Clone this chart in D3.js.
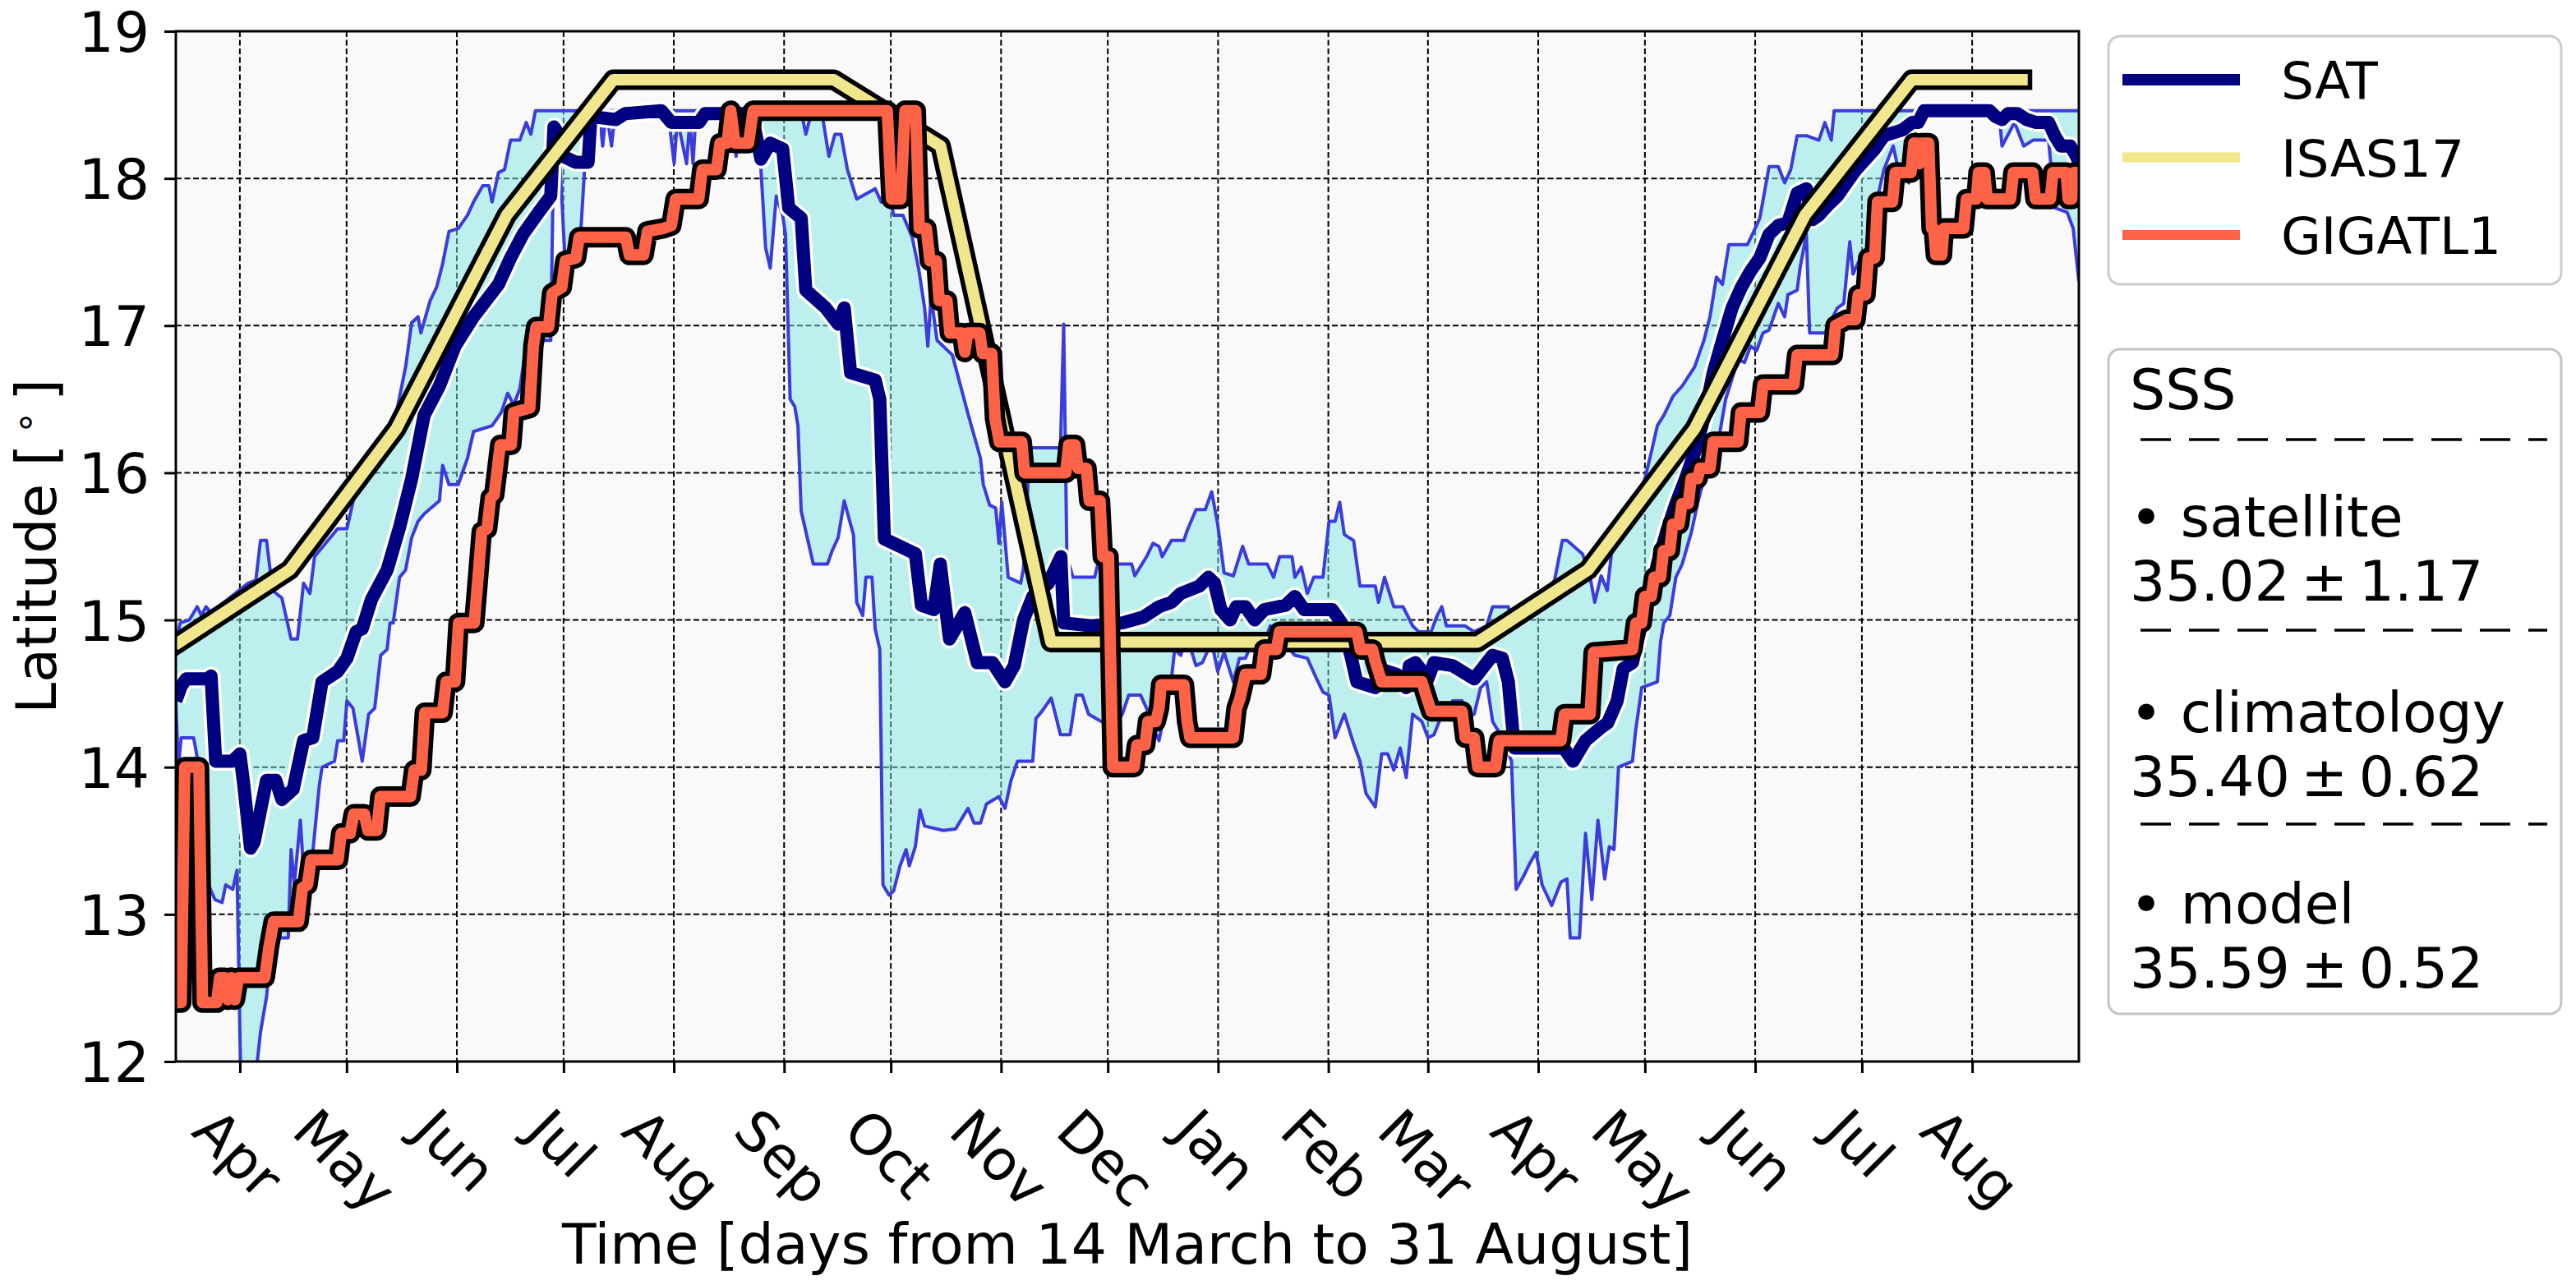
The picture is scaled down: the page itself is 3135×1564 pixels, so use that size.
<!DOCTYPE html>
<html>
<head>
<meta charset="utf-8">
<script src="https://cdn.jsdelivr.net/npm/d3@7"></script>
<style>
  body { margin: 0; background: #fff; }
  text { font-family: "DejaVu Sans", sans-serif; }
</style>
</head>
<body>
<div id="chart"></div>
<script>
// ---- data: [day since 14 March, latitude] ----
var satLat = [[0,14.45],[1.5,14.55],[2.9,14.6],[9,14.6],[9.9,14.62],[11.2,14.04],[15.9,14.04],[18,14.09],[19,13.9],[21,13.45],[22,13.49],[25.5,13.91],[28.1,13.91],[29.8,13.78],[33,13.85],[35.9,14.18],[38.5,14.2],[41.1,14.58],[45.5,14.65],[48.1,14.74],[50.7,14.92],[52.4,14.94],[55,15.14],[59.4,15.34],[62.9,15.63],[66.3,15.96],[69.8,16.39],[74.1,16.59],[78.5,16.86],[83.7,17.06],[87.2,17.17],[90.7,17.28],[94.1,17.46],[97.6,17.62],[102,17.77],[105.4,17.88],[106.3,18.35],[107.6,18.3],[108.9,18.15],[112.4,18.11],[115.9,18.11],[116.7,18.42],[123.7,18.4],[126.3,18.44],[136.5,18.46],[139.3,18.38],[147.1,18.38],[148.8,18.44],[161.9,18.44],[164.5,18.13],[167.1,18.24],[170.6,18.2],[172.3,17.8],[175.8,17.73],[177.1,17.24],[182.7,17.12],[186.2,17.01],[187.9,17.12],[189.7,16.68],[196.6,16.63],[197.9,16.5],[199.2,15.55],[203.6,15.5],[207.9,15.45],[209.6,15.1],[213.1,15.07],[214.9,15.38],[217.5,14.87],[221.8,15.05],[225.3,14.71],[229.6,14.71],[233.1,14.58],[235.7,14.69],[238.3,15.0],[240.9,15.16],[245.3,15.25],[248.8,15.43],[249.6,14.98],[257.4,14.96],[266.1,14.98],[272,15.02],[276.4,15.09],[279.9,15.12],[282.5,15.18],[287.7,15.23],[290.3,15.29],[292,15.25],[293.8,15.07],[296.4,15.0],[298.1,15.09],[300.7,15.09],[303.3,15.0],[306,15.07],[312,15.1],[314.6,15.16],[317.2,15.07],[325.1,15.07],[327.7,14.98],[330.3,14.76],[332,14.58],[337.2,14.54],[338.1,14.67],[343.3,14.63],[345.9,14.54],[346.8,14.69],[348.5,14.71],[352,14.6],[353.7,14.71],[358.9,14.69],[365,14.6],[370.2,14.76],[372.9,14.74],[374.6,14.58],[376.3,14.13],[382.4,14.13],[390.2,14.13],[392.8,14.04],[396.3,14.18],[400.7,14.27],[402.5,14.3],[405.2,14.45],[406.9,14.67],[409.5,14.71],[412.1,14.98],[414.8,15.2],[416.5,15.38],[419.1,15.6],[421.7,15.79],[424.4,15.96],[427,16.14],[429.6,16.37],[432.2,16.68],[434.8,16.9],[437.5,17.12],[440.1,17.26],[442.7,17.37],[445.3,17.46],[447.9,17.62],[450.5,17.68],[453.2,17.7],[455.8,17.9],[458.4,17.93],[460.1,17.72],[461.9,17.75],[464.5,17.82],[467.1,17.88],[469.7,17.97],[472.4,18.06],[475,18.13],[477.6,18.2],[480.2,18.29],[482.8,18.31],[485.4,18.33],[488.1,18.38],[489.8,18.38],[491.5,18.46],[509.9,18.46],[511.6,18.42],[513.4,18.4],[515.1,18.44],[517.7,18.44],[520.3,18.4],[523,18.38],[526.5,18.38],[528.2,18.29],[530,18.22],[532.6,18.22],[534.3,18.15],[535,18.11]];

var bandUpper = [[0,14.85],[1.2,14.98],[3.8,15.0],[6,15.09],[7.2,15.03],[8.5,15.09],[9.9,15.05],[17.7,15.2],[20.3,15.25],[22.5,15.27],[23.8,15.54],[25.5,15.54],[27.2,15.2],[29.8,15.15],[32.4,14.87],[34.2,14.87],[35.9,15.25],[37.7,15.18],[39,15.43],[45.5,15.62],[48.1,15.62],[52.4,16.08],[54.2,16.1],[61.1,16.3],[64.6,16.72],[66.3,17.02],[68.1,17.06],[68.9,16.95],[71.5,17.17],[73.3,17.26],[75,17.42],[76.8,17.64],[79.4,17.66],[82,17.75],[83.7,17.84],[86.3,17.95],[88,17.95],[88.9,17.84],[90.7,18.04],[92.4,18.06],[94.1,18.26],[96.7,18.26],[98.5,18.38],[99.8,18.3],[101.1,18.46],[175.8,18.46],[177.1,18.3],[178.4,18.42],[181.8,18.42],[183.6,18.15],[185.3,18.3],[187,18.3],[188.8,18.06],[191.4,17.86],[196.6,17.93],[198.3,17.84],[200.1,17.95],[201.8,17.75],[204.4,17.75],[207,17.6],[208.8,17.39],[210.5,17.12],[211.4,16.86],[212.3,17.2],[214,16.9],[218.3,16.8],[222.7,16.4],[226.2,16.1],[227,15.92],[228.8,15.78],[230.5,15.76],[231.4,15.52],[232.2,15.8],[234,15.29],[237.5,15.25],[238.3,15.35],[240.1,16.17],[248.7,16.17],[249.6,17.01],[250.5,15.43],[252.2,15.29],[258.3,15.29],[259.2,15.38],[268.7,15.38],[269.6,15.3],[272.9,15.43],[274.7,15.52],[276.4,15.5],[277.3,15.43],[279.9,15.54],[283.4,15.54],[284.2,15.6],[286.8,15.75],[289.4,15.75],[291.2,15.87],[292.9,15.65],[294.7,15.32],[297.3,15.3],[299.9,15.5],[301.6,15.38],[306.8,15.38],[308.6,15.29],[310.3,15.43],[313.8,15.43],[314.6,15.29],[316.4,15.36],[318.1,15.18],[319.9,15.29],[322.5,15.29],[324.2,15.67],[325.9,15.67],[327.2,15.8],[328.5,15.58],[331.1,15.54],[332.9,15.23],[337.2,15.23],[338.1,15.12],[339.8,15.29],[342.4,15.09],[345,15.09],[347.7,14.96],[349.4,14.92],[352.9,14.92],[354.6,15.03],[355.9,15.09],[357.2,14.96],[362.4,14.96],[365,14.92],[368.5,14.96],[370.2,15.09],[374.6,15.09],[375.5,15.0],[379.8,15.0],[383.3,15.14],[387.6,15.27],[389.8,15.54],[391.1,15.54],[395.4,15.45],[397.2,15.34],[398.9,15.12],[400.7,15.3],[402.4,15.2],[403.7,15.47],[407.4,15.6],[410,15.75],[413,15.96],[414.8,16.14],[416.5,16.32],[418.3,16.39],[420.9,16.52],[423.5,16.59],[427,16.72],[429.6,16.9],[431.3,17.06],[433.1,17.33],[434.8,17.28],[436.6,17.55],[441.8,17.55],[443.6,17.64],[445.3,17.73],[447.9,18.08],[450.5,18.08],[452.3,17.97],[454,18.06],[455.8,18.29],[458.4,18.29],[461.9,18.26],[463.6,18.38],[465.4,18.26],[466.2,18.46],[535,18.46]];

var bandLower = [[0,14.45],[0.7,14.0],[1.5,14.2],[5,14.2],[6.5,14.0],[8.5,14.0],[9.2,13.2],[11,13.1],[13,13.08],[14,13.2],[16,13.17],[17.2,13.3],[18.3,11.8],[22,11.8],[23.8,12.2],[25.5,12.44],[26.4,12.66],[27.2,12.84],[31.6,12.84],[32.4,13.44],[33.3,13.2],[35,13.64],[35.9,13.3],[36.8,13.42],[38.5,13.42],[40.3,13.87],[41.1,14.0],[44.6,14.04],[45.5,14.18],[47.2,14.18],[48.1,14.45],[49.8,14.4],[52.4,14.04],[54.2,14.36],[55.9,14.4],[57.6,14.76],[59.4,14.8],[60.2,14.98],[61.1,14.98],[62.9,15.29],[64.6,15.34],[66.3,15.56],[68.1,15.67],[69.8,15.72],[74.1,15.81],[75,16.05],[76.8,15.92],[79.4,15.92],[82,16.1],[83.7,16.28],[88.9,16.32],[91.5,16.41],[93.3,16.54],[95,16.46],[96.7,16.57],[98.5,16.86],[100.2,16.9],[105.4,16.9],[106.3,18.35],[108,18.1],[109.3,17.5],[113.5,17.5],[115,18.1],[116,18.46],[117,18.46],[118,18.22],[119,18.46],[120,18.22],[121,18.46],[122.5,18.22],[123.5,18.46],[135.8,18.4],[138.4,18.44],[140.1,18.1],[141,18.4],[143.6,18.1],[144.5,18.4],[145.4,18.1],[146.2,18.44],[156.7,18.44],[157.5,18.15],[158.4,18.44],[164.5,18.06],[165.8,17.53],[167.1,17.39],[168.8,17.88],[170.6,17.75],[171.4,17.62],[172.7,16.5],[174,16.45],[174.9,16.32],[175.8,15.74],[177.5,15.56],[179.2,15.38],[183.2,15.38],[184.5,15.47],[186.2,15.56],[187.9,15.81],[189.7,15.65],[190.5,15.58],[191.4,15.12],[193.1,15.03],[194,15.29],[195.7,15.29],[196.6,14.94],[197.9,14.8],[198.8,13.2],[200.5,13.13],[201.8,13.16],[203.6,13.33],[205.3,13.44],[206.2,13.33],[207.9,13.46],[209.2,13.71],[210.5,13.6],[215.7,13.57],[219.2,13.58],[222.7,13.72],[224.4,13.62],[226.2,13.62],[227.9,13.75],[231.4,13.8],[233.1,13.72],[234.8,13.91],[236.6,14.04],[240.9,14.04],[241.8,14.33],[243.5,14.38],[246.1,14.47],[248.7,14.22],[251.4,14.22],[253.1,14.49],[254.8,14.49],[256.6,14.36],[260.9,14.3],[264.4,14.3],[266.1,14.36],[267.9,14.49],[271.2,14.49],[272.9,14.4],[274.7,14.27],[276.4,14.18],[279.9,14.6],[280.8,14.8],[282.5,14.76],[284.2,14.89],[286.8,14.69],[288.6,14.71],[291.2,14.85],[292.9,14.65],[294.7,14.78],[297.3,14.58],[299,14.74],[300.7,14.74],[303.3,14.89],[306,14.85],[307.7,14.96],[309.4,14.83],[312,14.83],[314.6,14.76],[318.1,14.74],[320.7,14.6],[322.5,14.51],[324.2,14.49],[325.9,14.2],[328.5,14.36],[331.1,14.16],[332.9,14.04],[334.6,13.82],[337.2,13.73],[339,14.09],[340.7,14.09],[342.4,13.98],[344.2,14.13],[345.9,13.93],[347.7,14.36],[350.3,14.31],[352,14.2],[353.7,14.22],[355.5,14.33],[358.9,14.45],[361.6,14.45],[362.4,14.33],[365,14.36],[366.8,14.54],[368.5,14.58],[370.2,14.31],[372.9,14.2],[375.5,14.04],[376.8,13.17],[378.9,13.26],[380.7,13.35],[382.4,13.42],[384.1,13.2],[386.8,13.06],[389.4,13.22],[391.1,13.24],[392,12.84],[394.6,12.84],[396.3,13.55],[398.1,13.1],[399.8,13.64],[401.7,13.24],[403,13.46],[404.3,13.44],[405.6,14.0],[409.5,14.04],[410.4,14.25],[412.1,14.54],[416.5,14.58],[417.4,14.85],[418.3,14.98],[420,15.03],[421.7,15.29],[423.5,15.38],[426.1,15.6],[427.8,15.79],[429.6,15.96],[432.2,16.1],[433.9,16.25],[435.7,16.5],[436.6,16.57],[439.2,16.77],[441,16.75],[442.7,16.86],[444.4,16.83],[446.2,16.95],[447.9,16.97],[450.5,17.15],[452.3,17.06],[453.2,17.21],[455.8,17.24],[456.6,17.39],[458.4,17.62],[459.3,16.95],[463.6,16.95],[467.1,17.12],[468.9,17.15],[470.6,17.57],[471.5,17.35],[473.2,17.44],[475,17.46],[476.7,17.75],[478.5,17.88],[480.2,18.06],[482.8,18.22],[484.6,18.02],[487.2,17.97],[488.1,18.2],[489.8,18.46],[512.5,18.46],[513.4,18.22],[516.9,18.38],[519.5,18.22],[522.1,18.26],[526.5,18.26],[528.2,17.8],[531.7,17.77],[533.4,17.66],[535,17.3]];

var gigatlLat = [[0,12.4],[1.5,12.4],[2.5,14.0],[6.5,14.0],[7.5,12.4],[11.5,12.4],[12.3,12.57],[13.8,12.57],[14.6,12.42],[15.6,12.57],[16.6,12.42],[17.6,12.57],[25,12.57],[26.2,12.78],[27.5,12.95],[34.5,12.95],[35.6,13.18],[37,13.2],[38,13.37],[45.6,13.37],[46.5,13.55],[49,13.55],[50,13.68],[53,13.68],[54,13.57],[56.5,13.57],[57.5,13.8],[66,13.8],[67,13.98],[69,13.98],[70,14.37],[75,14.37],[76,14.58],[78.5,14.58],[79.5,14.98],[83.9,14.98],[85,15.3],[86,15.6],[87.5,15.62],[88.5,15.83],[89.5,15.85],[90.5,16.05],[91.2,16.19],[94.3,16.19],[95,16.41],[99.5,16.44],[100.5,16.86],[101.3,16.99],[104.8,16.99],[105.8,17.22],[108.5,17.26],[109.5,17.44],[112.5,17.46],[113.4,17.6],[126.5,17.6],[127.5,17.48],[131.5,17.48],[132.6,17.64],[137,17.66],[139.3,17.68],[140.5,17.86],[147,17.86],[148,18.06],[152,18.06],[153,18.24],[155,18.24],[156,18.46],[157.2,18.24],[161,18.24],[162.3,18.46],[200,18.46],[201.2,17.86],[203.8,17.86],[205,18.46],[208,18.46],[209,17.66],[211,17.66],[212,17.44],[213.8,17.44],[214.6,17.17],[216.8,17.17],[217.6,16.95],[221,16.95],[221.8,16.82],[222.6,16.95],[226,16.95],[226.8,16.81],[229.4,16.81],[230.3,16.37],[231.5,16.21],[237.8,16.21],[238.6,16.0],[250.2,16.0],[251,16.19],[252.8,16.19],[253.6,16.03],[256,16.03],[256.8,15.81],[259.8,15.81],[260.6,15.43],[262.2,15.43],[263.4,14.0],[269.4,14.0],[270.2,14.15],[272.5,14.15],[273.3,14.31],[275.5,14.31],[276.4,14.4],[277,14.56],[283.4,14.56],[284.3,14.31],[285.1,14.2],[297.3,14.2],[298.2,14.4],[299.2,14.47],[300.7,14.63],[305.1,14.63],[306,14.8],[309.4,14.8],[310.3,14.92],[332,14.92],[333,14.8],[336.4,14.8],[337.2,14.72],[339,14.58],[350.3,14.58],[351.3,14.5],[352.9,14.38],[361.6,14.38],[362.5,14.2],[365,14.2],[366,14.0],[371,14.0],[372,14.18],[389.4,14.18],[390.4,14.36],[397.6,14.36],[398.6,14.78],[409.5,14.8],[410.5,14.98],[412.1,14.98],[413,15.16],[414.8,15.16],[415.6,15.29],[417.4,15.29],[418.2,15.47],[420,15.47],[420.8,15.65],[422.6,15.65],[423.4,15.79],[425.2,15.79],[426,15.96],[427.8,15.96],[428.5,16.03],[431.3,16.03],[432.2,16.21],[439.2,16.21],[440,16.41],[445.3,16.41],[446.2,16.6],[454.9,16.6],[455.8,16.8],[465.8,16.8],[466.6,17.0],[469.7,17.04],[472.2,17.04],[473,17.21],[475,17.21],[475.8,17.46],[477.6,17.46],[478.4,17.84],[482.6,17.84],[483.4,18.04],[487.8,18.04],[488.6,18.24],[489.5,18.24],[490,18.1],[490.6,18.24],[492.8,18.24],[493.6,17.66],[494.2,17.66],[494.8,17.48],[496.5,17.48],[497,17.66],[502.6,17.66],[503.4,17.86],[506.2,17.86],[506.8,18.04],[508.5,18.04],[509.2,17.86],[515.8,17.86],[516.6,18.04],[522,18.04],[522.8,17.86],[527,17.86],[527.7,18.04],[531.4,18.04],[532,17.86],[533,17.86],[533.6,18.04],[535,18.04]];

// ISAS17 monthly climatology, values on the 15th of each month, Mar .. Aug of next year
var isasLat = [14.85, 15.34, 16.30, 17.75, 18.67, 18.67, 18.67, 18.22, 14.85, 14.85, 14.85, 14.85,
               14.85, 15.34, 16.30, 17.75, 18.67, 18.67];

var yTicks = [12, 13, 14, 15, 16, 17, 18, 19];
var legendNames = ["SAT", "ISAS17", "GIGATL1"];
var legendColors = ["#000080", "#f0e68c", "#ff6347"];
var sssLabels = ["satellite", "climatology", "model"];
var sssMean = ["35.02", "35.40", "35.59"];
var sssStd = ["1.17", "0.62", "0.52"];

// ---- layout ----
var W = 3135, H = 1564;
var margin = { top: 38, left: 214, right: 605, bottom: 272 };
var width = W - margin.left - margin.right,
    height = H - margin.top - margin.bottom;

var t0 = Date.UTC(2021, 2, 14);
function toDate(d) { return new Date(t0 + d * 864e5); }

var svg = d3.select("#chart").append("svg")
    .attr("width", W).attr("height", H)
    .style("background", "#fff");

var g = svg.append("g")
    .attr("transform", "translate(" + margin.left + "," + margin.top + ")");

var x = d3.scaleUtc().domain([toDate(0), toDate(535)]).range([0, width]);
var y = d3.scaleLinear().domain([12, 19]).range([height, 0]);

var monthTicks = d3.utcMonth.range(new Date(Date.UTC(2021, 3, 1)), new Date(Date.UTC(2022, 7, 2)));
var isasData = isasLat.map(function (v, i) {
    return [new Date(Date.UTC(2021, 2 + i, 15)), v];
});

g.append("rect").attr("width", width).attr("height", height).attr("fill", "#f9f9f9");

svg.append("defs").append("clipPath").attr("id", "plotclip")
    .append("rect").attr("width", width).attr("height", height);

// grid
var grid = g.append("g").attr("stroke", "#000").attr("stroke-width", 2).attr("stroke-dasharray", "7,3.5");
grid.selectAll(".vg").data(monthTicks).enter().append("line")
    .attr("x1", d => x(d)).attr("x2", d => x(d)).attr("y1", 0).attr("y2", height);
grid.selectAll(".hg").data(yTicks.slice(1, -1)).enter().append("line")
    .attr("x1", 0).attr("x2", width).attr("y1", d => y(d)).attr("y2", d => y(d));

var plot = g.append("g").attr("clip-path", "url(#plotclip)");

var line = d3.line().x(d => x(toDate(d[0]))).y(d => y(d[1]));
var lineDate = d3.line().x(d => x(d[0])).y(d => y(d[1]));

// spread band
var band = bandUpper.concat(bandLower.slice().reverse());
plot.append("path").attr("d", line(band) + "Z")
    .attr("fill", "#81e5e5").attr("fill-opacity", 0.5).attr("stroke", "none");
[bandUpper, bandLower].forEach(function (s) {
    plot.append("path").attr("d", line(s))
        .attr("fill", "none").attr("stroke", "#3c3cdc").attr("stroke-width", 4)
        .attr("stroke-linejoin", "round");
});

// SAT with white halo
plot.append("path").attr("d", line(satLat)).attr("fill", "none")
    .attr("stroke", "#fff").attr("stroke-width", 23).attr("stroke-linejoin", "round");
plot.append("path").attr("d", line(satLat)).attr("fill", "none")
    .attr("stroke", "#000080").attr("stroke-width", 16).attr("stroke-linejoin", "round");

// ISAS17 and GIGATL1 with black edge
function edged(d, color) {
    plot.append("path").attr("d", d).attr("fill", "none")
        .attr("stroke", "#000").attr("stroke-width", 25)
        .attr("stroke-linejoin", "round").attr("stroke-linecap", "square");
    plot.append("path").attr("d", d).attr("fill", "none")
        .attr("stroke", color).attr("stroke-width", 14)
        .attr("stroke-linejoin", "round").attr("stroke-linecap", "square");
}
edged(lineDate(isasData), "#f0e68c");
edged(line(gigatlLat), "#ff6347");

// frame
g.append("rect").attr("width", width).attr("height", height)
    .attr("fill", "none").attr("stroke", "#000").attr("stroke-width", 3);

// axes
var xAxis = g.append("g").attr("transform", "translate(0," + height + ")")
    .call(d3.axisBottom(x).tickValues(monthTicks).tickFormat(d3.utcFormat("%b")).tickSize(14));
var yAxis = g.append("g")
    .call(d3.axisLeft(y).tickValues(yTicks).tickFormat(d3.format("d")).tickSize(14).tickPadding(18));

[xAxis, yAxis].forEach(function (a) {
    a.attr("font-family", "DejaVu Sans").attr("font-size", 68);
    a.select(".domain").remove();
    a.selectAll(".tick line").attr("stroke", "#000").attr("stroke-width", 3);
    a.selectAll(".tick text").attr("fill", "#000");
});
yAxis.selectAll(".tick text").attr("dy", "0.36em");

xAxis.selectAll(".tick text")
    .attr("y", 0).attr("dy", null)
    .attr("text-anchor", "middle")
    .attr("dominant-baseline", "central")
    .attr("transform", function () {
        var w = this.getComputedTextLength();
        var half = (w + 68 * 1.164) * Math.SQRT1_2 / 2;
        return "translate(-3," + (43 + half) + ") rotate(45)";
    });

// axis labels
svg.append("text")
    .attr("x", margin.left + width / 2).attr("y", 1538)
    .attr("text-anchor", "middle").attr("font-size", 68)
    .text("Time [days from 14 March to 31 August]");

var yl = svg.append("text")
    .attr("transform", "translate(68," + (margin.top + height / 2) + ") rotate(-90)")
    .attr("text-anchor", "middle").attr("font-size", 68);
yl.append("tspan").text("Latitude [");
yl.append("tspan").attr("font-size", 46).attr("dy", -22).attr("dx", 12).text("\u2218");
yl.append("tspan").attr("dy", 22).attr("dx", 12).text("]");

// legend: series
var lg = svg.append("g").attr("transform", "translate(2566,44)");
lg.append("rect").attr("width", 551).attr("height", 302).attr("rx", 14)
    .attr("fill", "#fff").attr("stroke", "#cccccc").attr("stroke-width", 3);
legendNames.forEach(function (name, i) {
    var yy = 53 + i * 94.5;
    lg.append("line").attr("x1", 17).attr("x2", 160).attr("y1", yy).attr("y2", yy)
        .attr("stroke", legendColors[i]).attr("stroke-width", i === 0 ? 14 : 12);
    lg.append("text").attr("x", 210).attr("y", yy + 23).attr("font-size", 63).text(name);
});

// legend: SSS statistics
var sg = svg.append("g").attr("transform", "translate(2566,425)");
sg.append("rect").attr("width", 551).attr("height", 809).attr("rx", 14)
    .attr("fill", "#fff").attr("stroke", "#c4c4c4").attr("stroke-width", 3);
sg.append("text").attr("x", 26).attr("y", 73).attr("font-size", 68).text("SSS");
var dashY = [110, 342, 578];
dashY.forEach(function (dy) {
    sg.append("line").attr("x1", 39).attr("x2", 534).attr("y1", dy).attr("y2", dy)
        .attr("stroke", "#000").attr("stroke-width", 3.5).attr("stroke-dasharray", "37,22");
});
sssLabels.forEach(function (lab, i) {
    var base = [228, 466, 699][i];
    sg.append("text").attr("x", 26).attr("y", base).attr("font-size", 68).text("\u2022 " + lab);
    sg.append("text").attr("x", 26).attr("y", base + 78).attr("font-size", 68)
        .text(sssMean[i] + "\u2009\u00b1\u2009" + sssStd[i]);
});
</script>
</body>
</html>
